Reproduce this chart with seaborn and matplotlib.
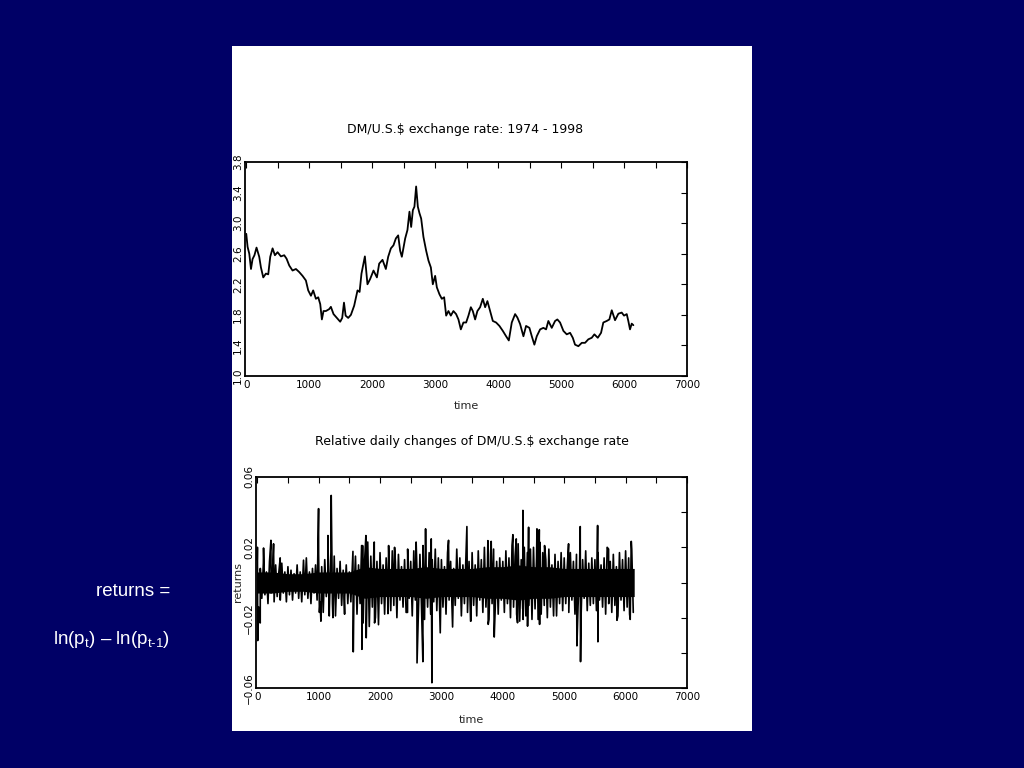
import numpy as np
import pandas as pd
import matplotlib
matplotlib.use("Agg")
import matplotlib.pyplot as plt
import seaborn as sns
from matplotlib.patches import Rectangle

sns.set_theme(style="white")
plt.rcParams["font.family"] = ["DejaVu Sans"]
plt.rcParams["mathtext.fontset"] = "custom"
plt.rcParams["mathtext.rm"] = "Liberation Sans"
plt.rcParams["mathtext.it"] = "Liberation Sans"

# ---------------- data: DM/US$ exchange rate ----------------
price_time = [0, 21, 48, 75, 100, 130, 163, 206, 233, 270, 312, 349, 381, 418, 455, 497,
              550, 603, 640, 683, 735, 789, 841, 894, 947, 984, 1027, 1063, 1106, 1143,
              1175, 1201, 1227, 1265, 1317, 1344, 1386, 1440, 1492, 1524, 1552, 1578, 1619,
              1662, 1714, 1767, 1800, 1830, 1884, 1925, 1968, 2021, 2075, 2111, 2164, 2217,
              2254, 2297, 2338, 2376, 2413, 2444, 2471, 2524, 2560, 2592, 2619, 2646, 2671,
              2698, 2725, 2751, 2778, 2814, 2857, 2894, 2932, 2963, 3000, 3027, 3068, 3106,
              3143, 3175, 3211, 3249, 3290, 3333, 3370, 3408, 3449, 3492, 3529, 3567, 3598,
              3635, 3671, 3714, 3757, 3794, 3830, 3873, 3916, 3968, 4021, 4075, 4127, 4170,
              4217, 4270, 4306, 4349, 4402, 4444, 4497, 4535, 4576, 4614, 4667, 4719, 4762,
              4798, 4852, 4905, 4941, 4984, 5037, 5090, 5143, 5186, 5222, 5275, 5329, 5381,
              5433, 5487, 5529, 5583, 5635, 5671, 5725, 5767, 5805, 5857, 5910, 5963, 6000,
              6043, 6068, 6095, 6122, 6148]
price_value = [2.86, 2.69, 2.60, 2.40, 2.53, 2.58, 2.68, 2.56, 2.42, 2.29, 2.34, 2.33, 2.56,
               2.67, 2.58, 2.62, 2.565, 2.58, 2.535, 2.445, 2.38, 2.40, 2.36, 2.31, 2.25,
               2.12, 2.05, 2.12, 2.01, 2.03, 1.94, 1.74, 1.85, 1.85, 1.875, 1.905, 1.81, 1.76,
               1.71, 1.76, 1.96, 1.79, 1.76, 1.80, 1.92, 2.12, 2.10, 2.34, 2.565, 2.20, 2.27,
               2.38, 2.29, 2.47, 2.52, 2.40, 2.56, 2.67, 2.71, 2.80, 2.84, 2.64, 2.56, 2.80,
               2.91, 3.15, 2.95, 3.17, 3.215, 3.48, 3.215, 3.13, 3.06, 2.82, 2.64, 2.51, 2.42,
               2.20, 2.31, 2.16, 2.07, 2.01, 2.03, 1.79, 1.85, 1.79, 1.85, 1.81, 1.74, 1.61,
               1.70, 1.70, 1.79, 1.90, 1.85, 1.74, 1.85, 1.90, 2.01, 1.90, 1.98, 1.85, 1.72,
               1.70, 1.655, 1.59, 1.52, 1.465, 1.70, 1.81, 1.765, 1.68, 1.52, 1.655, 1.63,
               1.52, 1.41, 1.52, 1.61, 1.63, 1.61, 1.72, 1.63, 1.72, 1.74, 1.70, 1.59, 1.545,
               1.565, 1.50, 1.41, 1.39, 1.434, 1.434, 1.48, 1.50, 1.545, 1.50, 1.565, 1.70,
               1.72, 1.74, 1.86, 1.73, 1.815, 1.83, 1.79, 1.81, 1.72, 1.61, 1.685, 1.665]

# ---------------- data: daily returns (hair tips of the noise band, x1e-3) ----------------
ret_bin_time = list(range(0, 6101, 50))
ret_hi = [13, 8, 11, 6, 12, 7, 10, 5, 11, 6, 9, 7, 5, 10, 6, 9, 14, 6, 8, 10,
          16, 9, 13, 7, 17, 11, 8, 12, 7, 10, 6, 11,
          15, 10, 21, 13, 23, 15, 19, 12,
          17, 10, 14, 8, 18, 12, 16, 9, 13, 19,
          12, 18, 9, 16, 21, 10, 17, 13, 19, 14,
          13, 9, 17, 12, 8, 19, 14, 10, 16, 12,
          17, 10, 18, 13, 20, 9, 16, 19, 12, 14,
          12, 18, 14, 21, 15, 22, 13, 20, 17, 19,
          20, 14, 23, 17, 13, 19, 10, 16, 12, 17,
          14, 9, 17, 12, 16, 8, 13, 18, 11, 14,
          13, 17, 10, 14, 20, 12, 16, 9, 17, 13, 18, 14, 19]
ret_lo = [-14, -9, -7, -12, -6, -11, -8, -10, -6, -11, -7, -10, -6, -9, -11, -7, -9, -12, -6, -10,
          -11, -17, -8, -15, -12, -19, -9, -13, -8, -12, -11, -7,
          -18, -12, -23, -15, -25, -14, -20, -24,
          -12, -18, -9, -16, -13, -20, -10, -14, -17, -9,
          -19, -10, -17, -13, -21, -14, -18, -11, -16, -20,
          -14, -18, -10, -16, -13, -9, -19, -12, -17, -22,
          -13, -19, -10, -17, -14, -21, -12, -16, -18, -10,
          -17, -12, -20, -14, -18, -22, -15, -19, -13, -21,
          -15, -21, -18, -13, -20, -14, -17, -19, -12, -16,
          -12, -17, -10, -18, -14, -19, -9, -16, -13, -12,
          -16, -10, -14, -18, -12, -17, -13, -19, -10, -16, -14, -21, -17]

# half-width of the solid dense core of the band (x1e-3)
core_time = [0, 250, 500, 750, 1000, 1250, 1500, 1750, 2000, 2250, 2500, 2750, 3000,
             3250, 3500, 3750, 4000, 4250, 4500, 4750, 5000, 5250, 5500, 5750, 6000, 6140]
core_half = [6, 6, 5, 5, 6, 6, 6, 9, 8, 8, 8, 9, 8, 8, 8, 9, 9, 10, 9, 9, 8, 8, 8, 8, 8, 8]

# isolated large moves (time, return)
spike_time = [3, 8, 49, 103, 223, 266, 374, 754, 999, 1013, 1037, 1151, 1173, 1205, 1233,
              1254, 1423, 1559, 1564, 1705, 1716, 1770, 1775, 1906, 1911, 2129, 2140, 2237,
              2448, 2588, 2603, 2698, 2742, 2834, 2845, 2981, 3116, 3182, 3415, 3480, 3757,
              3762, 3811, 3860, 4164, 4219, 4240, 4327, 4331, 4403, 4420, 4556, 4594, 4599,
              4680, 4827, 5071, 5207, 5261, 5266, 5544, 5549, 5723, 5859, 6065, 6092]
spike_value = [0.020, -0.033, -0.023, 0.0196, 0.024, 0.022, 0.014, 0.0127, 0.042, -0.017,
               -0.022, 0.0267, -0.019, 0.0495, -0.020, 0.015, -0.018, 0.0177, -0.0394,
               -0.038, 0.021, 0.0267, -0.0314, 0.023, -0.023, -0.0177, 0.021, 0.020, -0.017,
               0.023, -0.0457, -0.045, 0.0305, 0.0248, -0.057, -0.0286, 0.024, -0.0253,
               0.0318, -0.022, 0.0238, -0.0238, 0.0234, -0.031, 0.0272, 0.0248, -0.0229,
               0.041, -0.021, -0.0248, 0.0314, 0.0305, 0.030, -0.0238, 0.021, -0.019, 0.022,
               -0.036, 0.0318, -0.045, 0.0324, -0.0337, 0.019, -0.0215, -0.018, 0.0234]

price_ticks = [1.0, 1.4, 1.8, 2.2, 2.6, 3.0, 3.4, 3.8]
ret_ticks = [-0.06, -0.04, -0.02, 0.0, 0.02, 0.04, 0.06]
ret_tick_labels = ["\u22120.06", "", "\u22120.02", "", "0.02", "", "0.06"]

# ---------------- build tables ----------------
price_df = pd.DataFrame({"time": price_time, "rate": price_value})

ret_t, ret_v = [], []
for t, h, l in zip(ret_bin_time, ret_hi, ret_lo):
    ret_t += [t, t + 25]
    ret_v += [h * 1e-3, l * 1e-3]
ret_t += spike_time
ret_v += spike_value
ret_df = pd.DataFrame({"time": ret_t, "returns": ret_v}).sort_values("time", kind="stable")
core = np.array(core_half) * 1e-3

# ---------------- figure ----------------
W, H = 1024, 768
fig = plt.figure(figsize=(W / 100, H / 100), dpi=100, facecolor="#000066")
fig.patches.append(Rectangle((232 / W, 37 / H), 520 / W, 685 / H, transform=fig.transFigure,
                             facecolor="white", edgecolor="none", zorder=-5))

ax1 = fig.add_axes([245 / W, 392 / H, 442 / W, 214 / H])
ax2 = fig.add_axes([256 / W, 80 / H, 431 / W, 211 / H])
for ax in (ax1, ax2):
    ax.set_zorder(2)

title_font = dict(family=["DejaVu Sans"], fontsize=9, color="black")
tick_font = 7.5

sns.lineplot(data=price_df, x="time", y="rate", ax=ax1, color="black", lw=1.3,
             estimator=None, sort=False)
ax2.fill_between(core_time, -core, core, color="black", lw=0)
sns.lineplot(data=ret_df, x="time", y="returns", ax=ax2, color="black", lw=1.2,
             estimator=None, sort=False)

for ax in (ax1, ax2):
    ax.set_facecolor("white")
    ax.set_xlim(-20, 7000)
    xt = list(range(0, 7001, 500))
    ax.set_xticks(xt)
    ax.set_xticklabels([str(v) if v % 1000 == 0 else "" for v in xt], fontsize=tick_font)
    ax.tick_params(direction="in", top=True, right=True, length=4, width=0.8,
                   colors="black", pad=3)
    ax.tick_params(axis="y", pad=1.5)
    for s in ax.spines.values():
        s.set_color("black")
        s.set_linewidth(1.3)
        s.set_visible(True)
    ax.grid(False)

ax1.set_ylim(1.0, 3.8)
ax1.set_yticks(price_ticks)
ax1.set_yticklabels([f"{v:.1f}" for v in price_ticks], rotation=90, va="center",
                    fontsize=tick_font)
ax1.set_xlabel("time", fontsize=8, labelpad=8)
ax1.set_ylabel("")

ax2.set_ylim(-0.06, 0.06)
ax2.set_yticks(ret_ticks)
ax2.set_yticklabels(ret_tick_labels, rotation=90, va="center", fontsize=tick_font)
ax2.set_xlabel("time", fontsize=8, labelpad=9)
ax2.set_ylabel("returns", fontsize=8, labelpad=1)

fig.text(465 / W, 1 - 130 / H, "DM/U.S.$ exchange rate: 1974 - 1998", ha="center",
         va="center", **title_font)
fig.text(472 / W, 1 - 442 / H, "Relative daily changes of DM/U.S.$ exchange rate",
         ha="center", va="center", **title_font)

fig.text(170 / W, 1 - 592 / H, "returns =", ha="right", va="center", color="white",
         fontsize=13.5, family=["Liberation Sans"])
fig.text(170 / W, 1 - 640 / H, r"ln(p$_{\mathregular{t}}$) – ln(p$_{\mathregular{t\text{-}1}}$)",
         ha="right", va="center", color="white", fontsize=13.5, family=["Liberation Sans"])

fig.savefig("out.png", dpi=100, facecolor=fig.get_facecolor())
